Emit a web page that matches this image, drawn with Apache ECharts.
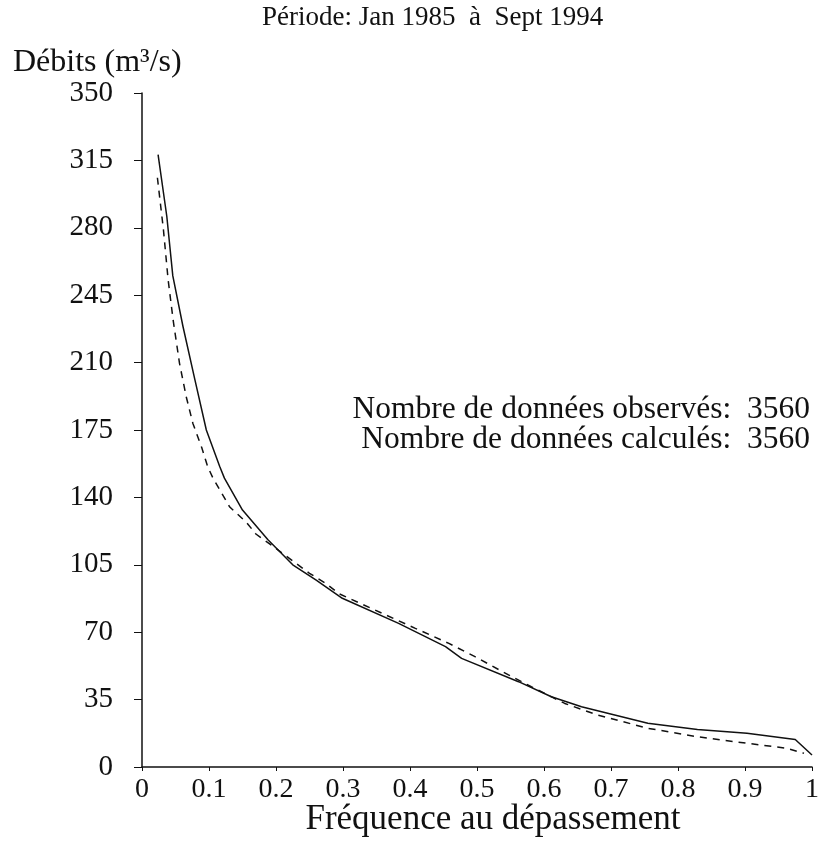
<!DOCTYPE html>
<html><head><meta charset="utf-8">
<script src="https://cdn.jsdelivr.net/npm/echarts@6/dist/echarts.min.js"></script>
<style>html,body{margin:0;padding:0;background:#fff}#c{width:822px;height:850px}</style>
</head><body><div id="c"></div>
<script>
const observedFreq = [0.024,0.037,0.046,0.061,0.079,0.096,0.116,0.123,0.150,0.188,0.225,0.260,0.299,0.383,0.453,0.477,0.562,0.611,0.656,0.755,0.829,0.903,0.975,1.0];
const observedQ    = [318,286,255,229,201,175,156,150,133.4,118,105,97,87.6,74.6,62.5,56.4,44.3,36.5,31.3,22.7,19.5,17.5,14.3,6.2];
const calcFreq = [0.023,0.032,0.039,0.0465,0.056,0.066,0.076,0.089,0.098,0.106,0.131,0.156,0.170,0.190,0.250,0.274,0.294,0.408,0.458,0.497,0.547,0.581,0.631,0.680,0.755,0.829,0.903,0.963,0.988];
const calcQ    = [306,279,253,232,209.6,192.3,178.4,166,156,150,135,127,121,116,100.6,95.4,90,72,64.2,57.3,47.8,41.7,33,27,20.1,15.7,12.3,9.7,7.1];
const yTicks = [0,35,70,105,140,175,210,245,280,315,350];
const xTicks = [0,0.1,0.2,0.3,0.4,0.5,0.6,0.7,0.8,0.9,1];
const titleText = 'Période: Jan 1985  à  Sept 1994';
const yName = 'Débits (m³/s)';
const xName = 'Fréquence au dépassement';
const note1 = 'Nombre de données observés:  3560';
const note2 = 'Nombre de données calculés:  3560';

const F = '"Liberation Serif", "DejaVu Serif", serif';
const chart = echarts.init(document.getElementById('c'));
const pair = (xs, ys) => xs.map((x, i) => [x, ys[i]]);
chart.setOption({
  animation: false,
  backgroundColor: '#fff',
  grid: {left: 142, right: 7, top: 93, bottom: 83},
  xAxis: {
    type: 'value', min: xTicks[0], max: xTicks[xTicks.length-1], interval: 0.1,
    axisLine: {lineStyle: {color: '#111', width: 1.5}},
    axisTick: {show: true, length: 4, lineStyle: {color: '#111'}},
    splitLine: {show: false},
    axisLabel: {color: '#111', fontFamily: F, fontSize: 28, margin: 9,
      formatter: v => String(Math.round(v*10)/10)}
  },
  yAxis: {
    type: 'value', min: yTicks[0], max: yTicks[yTicks.length-1], interval: 35,
    axisLine: {show: true, lineStyle: {color: '#111', width: 1.5}},
    axisTick: {show: true, length: 8, lineStyle: {color: '#111'}},
    splitLine: {show: false},
    axisLabel: {color: '#111', fontFamily: F, fontSize: 29, margin: 29}
  },
  series: [
    {type: 'line', data: pair(observedFreq, observedQ), showSymbol: false, smooth: false,
      lineStyle: {color: '#111', width: 1.5, type: 'solid'}},
    {type: 'line', data: pair(calcFreq, calcQ), showSymbol: false, smooth: false,
      lineStyle: {color: '#111', width: 1.5, type: [7, 6]}}
  ],
  graphic: [
    {type: 'text', x: 262, y: 18, style: {text: titleText, font: '27px ' + F, fill: '#111', verticalAlign: 'middle'}},
    {type: 'text', x: 13, y: 63, style: {text: yName, font: '32px ' + F, fill: '#111', verticalAlign: 'middle'}},
    {type: 'text', x: 810, y: 410, style: {text: note1, font: '31.5px ' + F, fill: '#111', align: 'right', verticalAlign: 'middle'}},
    {type: 'text', x: 810, y: 440, style: {text: note2, font: '31.5px ' + F, fill: '#111', align: 'right', verticalAlign: 'middle'}},
    {type: 'text', x: 493, y: 820, style: {text: xName, font: '35px ' + F, fill: '#111', align: 'center', verticalAlign: 'middle'}}
  ]
});
</script></body></html>
